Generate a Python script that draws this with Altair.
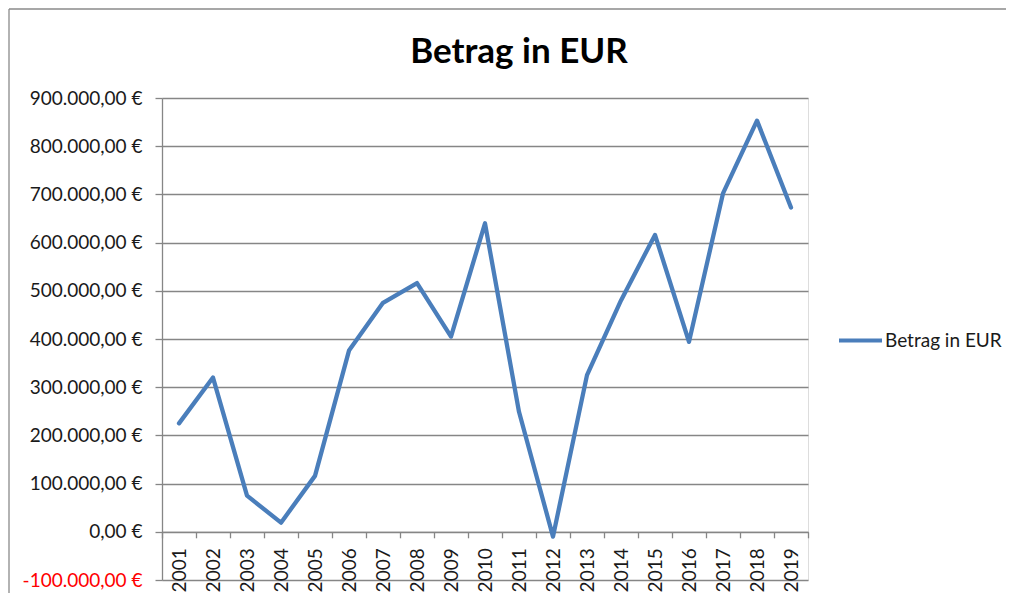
import altair as alt
import pandas as pd

years = [str(y) for y in range(2001, 2020)]
values = [225000, 320000, 75000, 19000, 116000, 376000, 475000, 516000, 405000, 640000,
          249000, -10000, 325000, 480000, 616000, 394000, 702000, 853000, 673000]
series = "Betrag in EUR"
title_text = "Betrag in EUR"
y_ticks = list(range(-100000, 900001, 100000))

df = pd.DataFrame({"Jahr": years, "Betrag": values, "Serie": [series] * len(years)})

FONT = "Lato"
GRID = "#868686"

label_expr = ("replace(replace(replace(replace(format(datum.value, ',.2f'), ',', '_'), '.', ','), '_', '.'), '\u2212', '-') + ' €'")

line = alt.Chart(df).mark_line(strokeWidth=4.3, strokeCap="round", strokeJoin="round").encode(
    x=alt.X("Jahr:O", sort=years,
            scale=alt.Scale(type="band", paddingInner=0, paddingOuter=0),
            axis=alt.Axis(title=None, labelAngle=-90, tickBand="extent", offset=-48.2,
                          domainColor=GRID, domainWidth=1.3, tickColor=GRID, tickWidth=1.3,
                          tickSize=6, labelPadding=10, labelFontSize=19, labelFont=FONT,
                          labelColor="#1a1a1a", grid=False)),
    y=alt.Y("Betrag:Q",
            scale=alt.Scale(domain=[-100000, 900000], nice=False, zero=False),
            axis=alt.Axis(title=None, values=y_ticks, labelExpr=label_expr,
                          labelColor=alt.condition("datum.value < 0", alt.value("#ff0000"), alt.value("#1a1a1a")),
                          labelFontSize=19, labelFont=FONT, labelPadding=13,
                          tickSize=7, tickColor=GRID, tickWidth=1.3,
                          domainColor=GRID, domainWidth=1.3,
                          grid=True, gridColor=GRID, gridWidth=1.3, gridOpacity=1)),
    color=alt.Color("Serie:N", scale=alt.Scale(range=["#4A7EBB"]),
                    legend=alt.Legend(title=None, orient="none", legendX=675, legendY=219,
                                      symbolType="stroke", symbolSize=1849, symbolStrokeWidth=4,
                                      labelFontSize=19, labelFont=FONT, labelColor="#1a1a1a",
                                      labelOffset=1)),
)

frame_data = alt.Data(values=[{}])
border_top = alt.Chart(frame_data).mark_rule(stroke="#8a8a8a", strokeWidth=1.3).encode(
    x=alt.value(-153), x2=alt.value(846), y=alt.value(-89)
)
border_left = alt.Chart(frame_data).mark_rule(stroke="#8a8a8a", strokeWidth=1.3).encode(
    x=alt.value(-153), y=alt.value(-89), y2=alt.value(510)
)

title = alt.Chart(alt.Data(values=[{"t": title_text}])).mark_text(
    font=FONT, fontSize=35, fontWeight="bold", color="#000000", align="center", baseline="alphabetic"
).encode(text="t:N", x=alt.value(357), y=alt.value(-35))

chart = alt.layer(border_top, border_left, line, title).properties(
    width=646, height=482,
    padding={"left": 154, "top": 90, "right": 198, "bottom": 13},
    autosize=alt.AutoSizeParams(type="none"),
).configure_view(strokeWidth=0).configure(background="white")

chart.save("out.html", embed_options={"renderer": "svg", "actions": False})
